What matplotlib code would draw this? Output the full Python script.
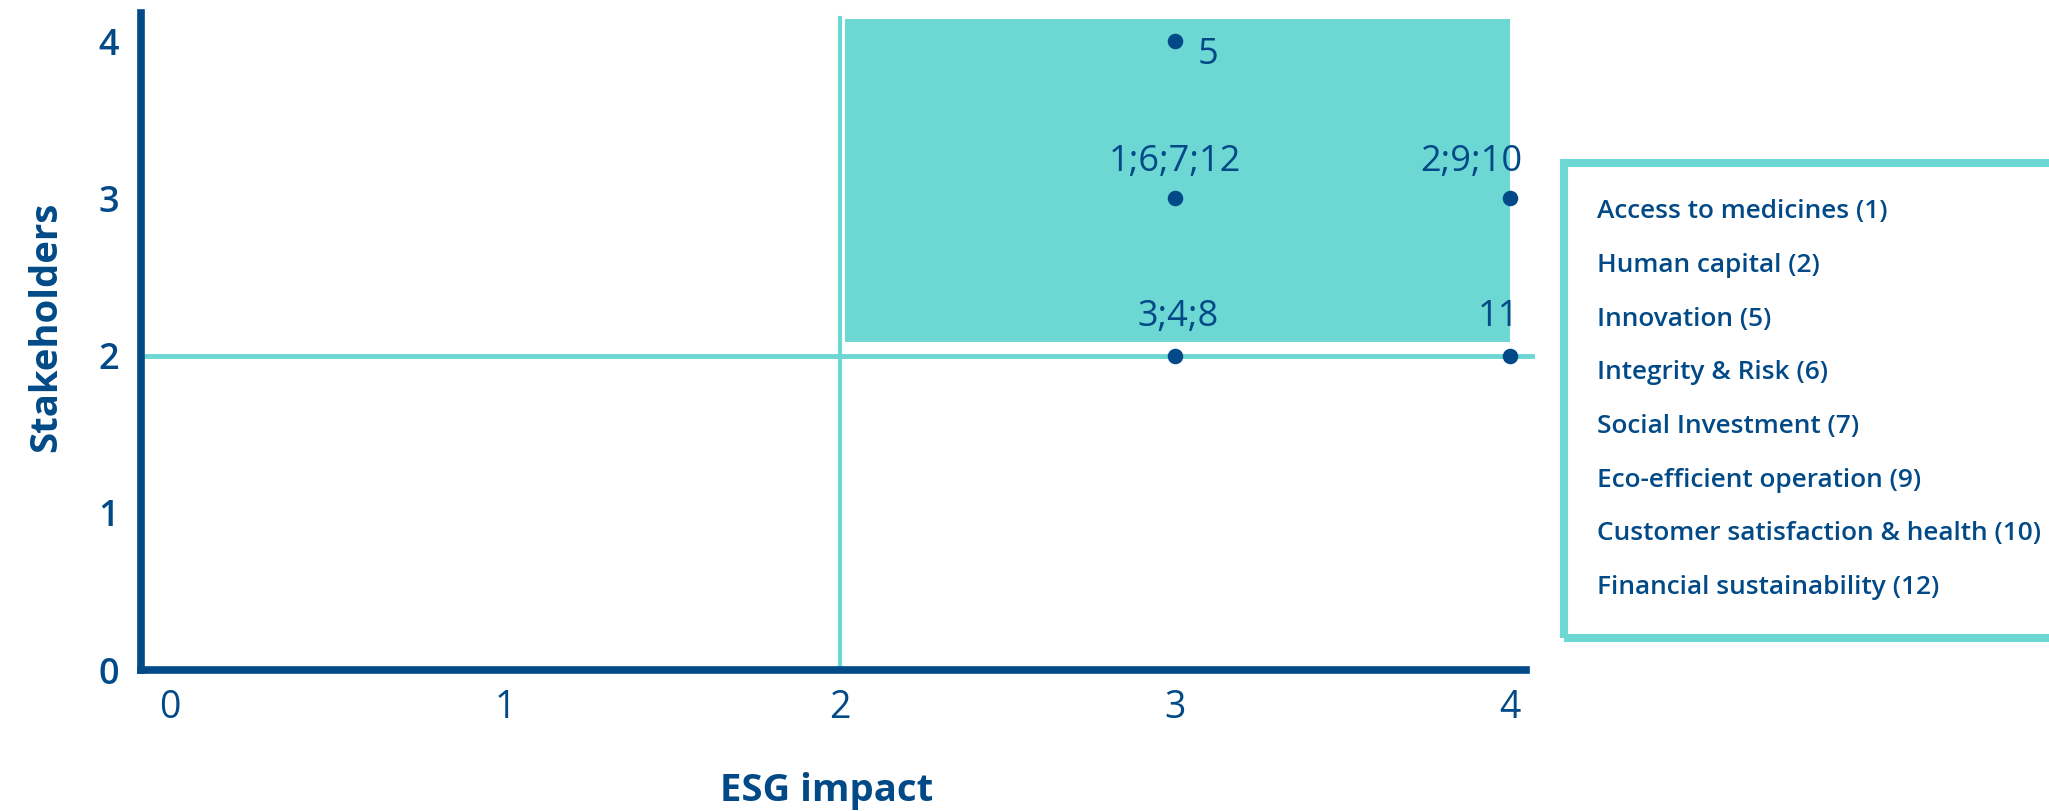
import matplotlib
matplotlib.use("Agg")
import matplotlib.pyplot as plt
from matplotlib.patches import Rectangle

plt.rcParams['font.family'] = ['Open Sans', 'DejaVu Sans']

NAVY = "#014A87"
TEAL = "#6DD7D3"

# data
point_x = [3, 3, 4, 3, 4]
point_y = [4, 3, 3, 2, 2]
point_labels = ["5", "1;6;7;12", "2;9;10", "3;4;8", "11"]
x_ticks = [0, 1, 2, 3, 4]
y_ticks = [0, 1, 2, 3, 4]
legend_items = ["Access to medicines (1)", "Human capital (2)", "Innovation (5)",
                "Integrity & Risk (6)", "Social Investment (7)", "Eco-efficient operation (9)",
                "Customer satisfaction & health (10)", "Financial sustainability (12)"]
threshold_x = 2
threshold_y = 2

W, H = 2049, 811
fig = plt.figure(figsize=(W / 100, H / 100), dpi=100)
ax = fig.add_axes([141 / W, (H - 670) / H, (1526 - 141) / W, (670 - 13) / H])
ax.set_xlim(-0.087, 4.048)
ax.set_ylim(0, 4.18)

# highlighted quadrant
ax.add_patch(Rectangle((2.015, 2.089), 4.0 - 2.015, 4.14 - 2.089, facecolor=TEAL,
                       edgecolor="none", zorder=1))
ax.plot([threshold_x, threshold_x], [0, 4.15], color=TEAL, lw=3, zorder=2, clip_on=False)
ax.plot([-0.087, 4.066], [threshold_y, threshold_y], color=TEAL, lw=3.5, zorder=2, clip_on=False)

ax.scatter(point_x, point_y, s=125, color=NAVY, zorder=4, clip_on=False, linewidths=0)

# point labels
offsets = [(16.5, -10, "left", "center"), (0, 19.5, "center", "baseline"),
           (9, 19.5, "right", "baseline"), (2, 21, "center", "baseline"),
           (7, 21, "right", "baseline")]
for x, y, lab, (dx, dy, ha, va) in zip(point_x, point_y, point_labels, offsets):
    ax.annotate(lab, (x, y), xytext=(dx, dy), textcoords="offset points",
                ha=ha, va=va, fontsize=26, color=NAVY, zorder=5)

for s in ["top", "right"]:
    ax.spines[s].set_visible(False)
for s in ["left", "bottom"]:
    ax.spines[s].set_color(NAVY)
    ax.spines[s].set_linewidth(5.5)
    ax.spines[s].set_capstyle("projecting")

ax.set_xticks(x_ticks)
ax.set_yticks(y_ticks)
ax.tick_params(axis="both", length=0, colors=NAVY)
ax.tick_params(axis="x", pad=14, labelsize=27)
ax.tick_params(axis="y", pad=16, labelsize=26)
for t in ax.get_yticklabels():
    t.set_fontweight("semibold")

fig.text(46 / W, 1 - 327 / H, "Stakeholders", rotation=90, ha="center", va="center",
         fontsize=27.5, fontweight="bold", color=NAVY)
fig.text(827 / W, 1 - 791 / H, "ESG impact", ha="center", va="center",
         fontsize=27.5, fontweight="bold", color=NAVY)

# legend box (runs off the right edge)
fig.add_artist(Rectangle((1564 / W, 1 - 638 / H), 600 / W, (638 - 163) / H,
                         transform=fig.transFigure, facecolor="none", edgecolor=TEAL,
                         lw=5.8, clip_on=False))
for i, item in enumerate(legend_items):
    fig.text(1597 / W, 1 - (212 + i * 53.6) / H, item, ha="left", va="center",
             fontsize=18.9, fontweight="semibold", color=NAVY)

fig.savefig("out.png", dpi=100)
